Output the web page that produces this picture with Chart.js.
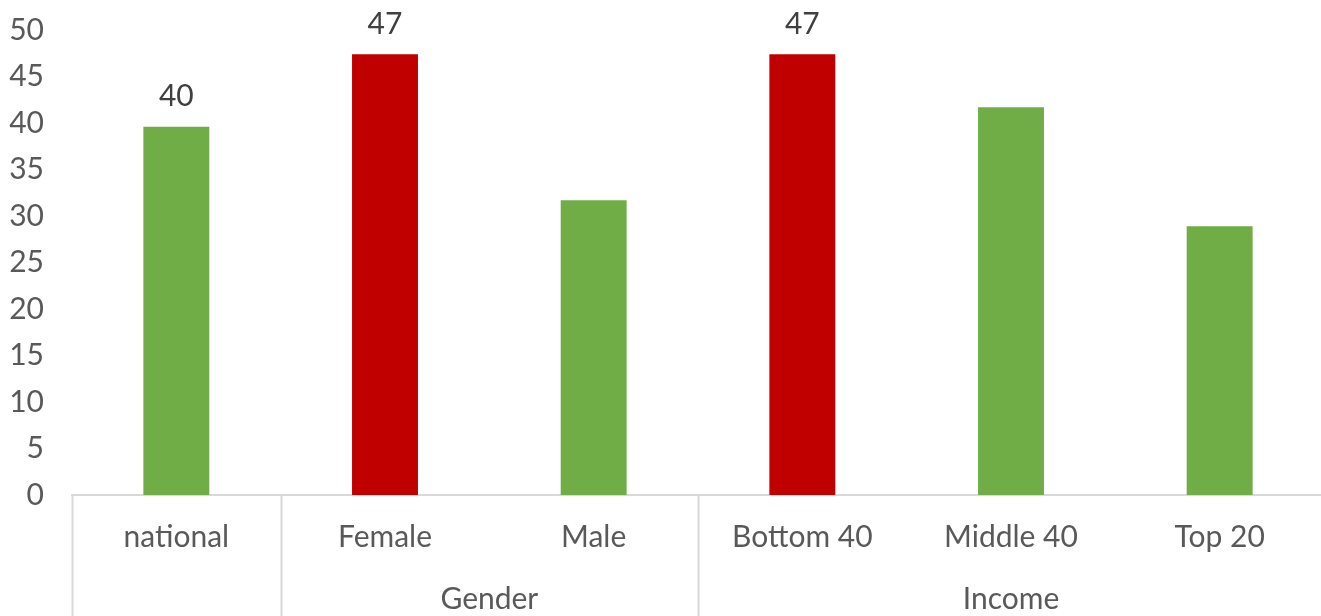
<!DOCTYPE html>
<html>
<head>
<meta charset="utf-8">
<script src="https://cdn.jsdelivr.net/npm/chart.js@4/dist/chart.umd.min.js"></script>
<style>
  html, body { margin: 0; padding: 0; background: #fff; overflow: hidden; }
  #wrap { width: 1324px; height: 616px; }
</style>
</head>
<body>
<div id="wrap"><canvas id="myChart" width="1324" height="616"></canvas></div>
<script>
// categories and values
const categories = ['national', 'Female', 'Male', 'Bottom 40', 'Middle 40', 'Top 20'];
const values = [39.6, 47.4, 31.7, 47.4, 41.7, 28.9];
const barColors = ['#70ad47', '#c00000', '#70ad47', '#c00000', '#70ad47', '#70ad47'];
const showValue = [true, true, false, true, false, false];

// second row of the category axis
const groupNames = ['Gender', 'Income'];
const groupStart = [1, 3];
const groupEnd = [2, 5];

const yTicks = [0, 5, 10, 15, 20, 25, 30, 35, 40, 45, 50];

const FONT = 'Lato, "Open Sans", sans-serif';
const TEXT = '#595959';
const LINE = '#d9d9d9';

// value labels above selected bars
const valueLabels = {
    id: 'valueLabels',
    afterDatasetsDraw(chart) {
        const ctx = chart.ctx;
        const meta = chart.getDatasetMeta(0);
        ctx.save();
        ctx.font = '30px ' + FONT;
        ctx.fillStyle = '#404040';
        ctx.textAlign = 'center';
        ctx.textBaseline = 'middle';
        meta.data.forEach((bar, i) => {
            if (!showValue[i]) return;
            ctx.fillText(String(Math.round(values[i])), bar.x, bar.y - 30);
        });
        ctx.restore();
    }
};

// divider lines and group names under the category labels
const groupAxis = {
    id: 'groupAxis',
    afterDraw(chart) {
        const ctx = chart.ctx;
        const x = chart.scales.x;
        const area = chart.chartArea;
        const half = (x.getPixelForValue(1) - x.getPixelForValue(0)) / 2;
        const edge = i => x.getPixelForValue(i) - half;

        ctx.save();
        ctx.strokeStyle = LINE;
        ctx.lineWidth = 2;
        const dividers = [0].concat(groupStart);
        dividers.forEach(i => {
            const px = Math.round(edge(i)) + 0.5;
            ctx.beginPath();
            ctx.moveTo(px, area.bottom);
            ctx.lineTo(px, chart.height);
            ctx.stroke();
        });

        ctx.font = '30px ' + FONT;
        ctx.fillStyle = TEXT;
        ctx.textAlign = 'center';
        ctx.textBaseline = 'middle';
        groupNames.forEach((name, g) => {
            const cx = (x.getPixelForValue(groupStart[g]) + x.getPixelForValue(groupEnd[g])) / 2;
            ctx.fillText(name, cx, area.bottom + 104);
        });
        ctx.restore();
    }
};

new Chart(document.getElementById('myChart').getContext('2d'), {
    type: 'bar',
    data: {
        labels: categories,
        datasets: [{
            data: values,
            backgroundColor: barColors,
            borderWidth: 0,
            categoryPercentage: 1,
            barPercentage: 0.316
        }]
    },
    options: {
        responsive: false,
        animation: false,
        layout: { padding: { top: 30, right: 0, bottom: 0, left: 0 } },
        plugins: {
            legend: { display: false },
            tooltip: { enabled: false }
        },
        scales: {
            x: {
                grid: { display: false, drawTicks: false },
                border: { color: LINE, width: 2 },
                ticks: {
                    color: TEXT,
                    font: { family: FONT, size: 30 },
                    padding: 24,
                    maxRotation: 0,
                    autoSkip: false
                },
                afterFit(scale) { scale.height = 121; }
            },
            y: {
                min: 0,
                max: 50,
                grid: { display: false, drawTicks: false },
                border: { display: false },
                afterBuildTicks(scale) { scale.ticks = yTicks.map(v => ({ value: v })); },
                ticks: {
                    color: TEXT,
                    font: { family: FONT, size: 30 },
                    padding: 28
                },
                afterFit(scale) {
                    scale.width = 72;
                    scale.paddingTop = 0;
                    scale.paddingBottom = 0;
                }
            }
        }
    },
    plugins: [valueLabels, groupAxis]
});
</script>
</body>
</html>
